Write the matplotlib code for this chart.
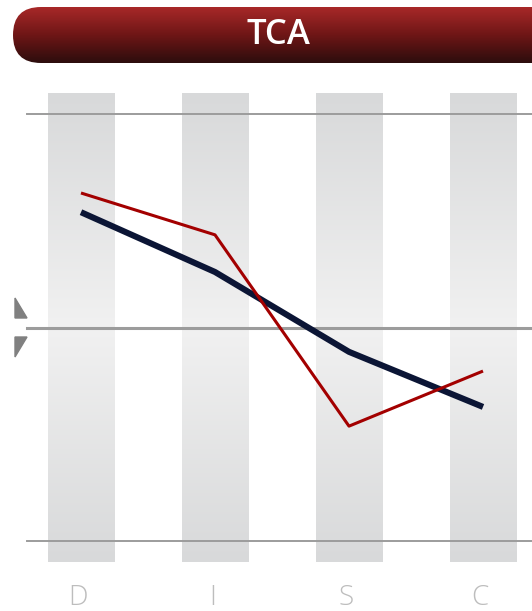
import numpy as np
import matplotlib.pyplot as plt
from matplotlib.patches import FancyBboxPatch, Polygon
from matplotlib.colors import LinearSegmentedColormap

categories = ["D", "I", "S", "C"]
navy_values = [77.0, 63.0, 44.3, 31.4]
red_values = [81.5, 71.7, 26.9, 39.8]
grid_values = [0, 50, 100]
title = "TCA"

W, H = 532, 611
fig = plt.figure(figsize=(W / 100, H / 100), dpi=100)

# data axes covering the whole figure, scaled so the plot sits where it should
ax = fig.add_axes([0, 0, 1, 1])
px_x = 134.0
px_y = 4.27
ax.set_xlim(-81 / px_x, (W - 81) / px_x)
ax.set_ylim(-(H - 541) / px_y, 100 + 114 / px_y)
ax.axis("off")

# gradient columns
bar_cmap = LinearSegmentedColormap.from_list("col", ["#d8d9da", "#f1f1f1", "#d8d9da"])
grad = np.linspace(0, 1, 256).reshape(-1, 1)
bar_top, bar_bot = 104.9, -4.9
for i in range(len(categories)):
    ax.imshow(grad, cmap=bar_cmap, aspect="auto", interpolation="bicubic",
              extent=(i - 0.25, i + 0.25, bar_bot, bar_top), zorder=1)

# horizontal guide lines
for v in grid_values:
    lw = 2.2 if v == 50 else 1.4
    ax.axhline(v, xmin=27 / W, xmax=1, color="#9c9c9c", lw=lw, zorder=2)

x = np.arange(len(categories))
ax.plot(x, navy_values, color="#0b1535", lw=4.4, solid_capstyle="butt", zorder=3)
ax.plot(x, red_values, color="#a30000", lw=2.2, solid_capstyle="butt", zorder=4)

for i, c in enumerate(categories):
    ax.text(i - 0.02, -13.4, c, ha="center", va="center", fontsize=20,
            family="Open Sans", weight="light", color="#bdbdbd")

ax.set_xlim(-81 / px_x, (W - 81) / px_x)
ax.set_ylim(-(H - 541) / px_y, 100 + 114 / px_y)

# overlay in pixel coordinates for banner and markers
ov = fig.add_axes([0, 0, 1, 1])
ov.set_xlim(0, W)
ov.set_ylim(H, 0)
ov.axis("off")

banner = FancyBboxPatch((13 + 28, 7), 560, 56, boxstyle="round,pad=0,rounding_size=28",
                        facecolor="none", edgecolor="none")
ov.add_patch(banner)
banner.set_bounds(13, 7, 560, 56)
banner_cmap = LinearSegmentedColormap.from_list("ban", ["#a82828", "#6e1616", "#2c0d0d"])
img = ov.imshow(grad, cmap=banner_cmap, aspect="auto", extent=(13, 573, 63, 7), zorder=5)
img.set_clip_path(banner)
ov.text(278, 35, title, ha="center", va="center", fontsize=25, color="white",
        family="Open Sans", weight="semibold", zorder=6)

ov.add_patch(Polygon([(15, 298), (27, 318), (15, 318)], closed=True, color="#808080"))
ov.add_patch(Polygon([(15, 337), (27, 337), (15, 357)], closed=True, color="#808080"))
ov.set_xlim(0, W)
ov.set_ylim(H, 0)

fig.savefig("out.png", dpi=100)
